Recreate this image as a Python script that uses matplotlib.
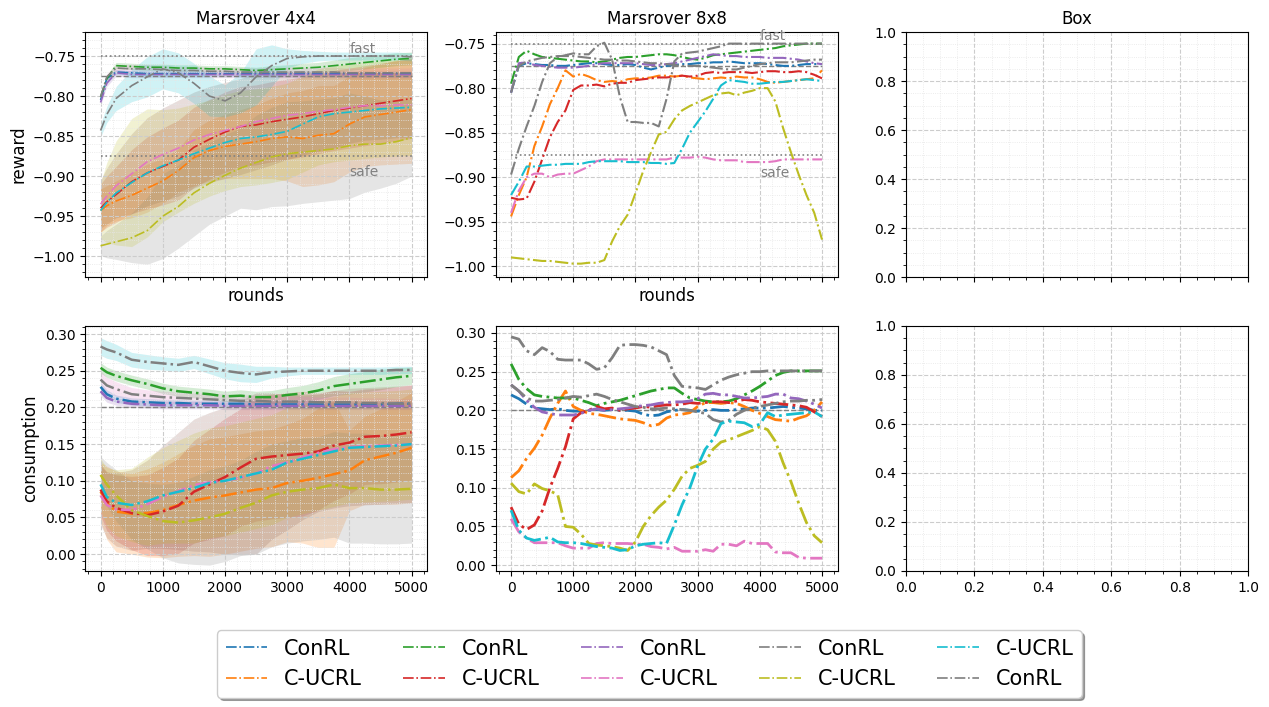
import numpy as np
import matplotlib.pyplot as plt
from matplotlib.ticker import AutoMinorLocator

rounds4 = [0, 100, 250, 500, 750, 1000, 1250, 1500, 1750, 2000, 2250,
           2500, 2750, 3000, 3250, 3500, 3750, 4000, 4250, 4500, 4750, 5000]
rounds8 = np.arange(0, 5001, 125)

labels = ['ConRL', 'C-UCRL', 'ConRL', 'C-UCRL', 'ConRL',
          'C-UCRL', 'ConRL', 'C-UCRL', 'C-UCRL', 'ConRL']
colors = ['tab:blue', 'tab:orange', 'tab:green', 'tab:red', 'tab:purple',
          'tab:pink', 'tab:gray', 'tab:olive', 'tab:cyan', 'tab:gray']
band_colors = ['tab:blue', 'tab:orange', 'tab:green', 'tab:red', 'tab:purple',
               'tab:brown', 'tab:pink', 'tab:gray', 'tab:olive', 'tab:cyan']

# ---- Marsrover 4x4, reward (mean and spread) ----
rew4_blue = [-0.805, -0.778, -0.770, -0.771, -0.772, -0.772, -0.772, -0.772, -0.772, -0.772, -0.772,
             -0.772, -0.772, -0.772, -0.772, -0.772, -0.772, -0.772, -0.772, -0.772, -0.772, -0.772]
rew4_orange = [-0.943, -0.937, -0.931, -0.924, -0.915, -0.906, -0.893, -0.877, -0.868, -0.863, -0.860,
               -0.857, -0.853, -0.851, -0.853, -0.849, -0.847, -0.835, -0.826, -0.823, -0.820, -0.817]
rew4_green = [-0.801, -0.778, -0.762, -0.763, -0.764, -0.764, -0.765, -0.765, -0.766, -0.766, -0.767,
              -0.768, -0.767, -0.766, -0.765, -0.764, -0.762, -0.760, -0.758, -0.756, -0.754, -0.753]
rew4_red = [-0.940, -0.932, -0.923, -0.907, -0.896, -0.888, -0.880, -0.864, -0.854, -0.845, -0.838,
            -0.836, -0.832, -0.829, -0.826, -0.822, -0.818, -0.815, -0.812, -0.809, -0.806, -0.803]
rew4_purple = [-0.808, -0.784, -0.771, -0.773, -0.773, -0.773, -0.773, -0.773, -0.773, -0.773, -0.773,
               -0.773, -0.773, -0.773, -0.773, -0.773, -0.773, -0.773, -0.773, -0.773, -0.773, -0.773]
rew4_pink = [-0.935, -0.925, -0.912, -0.897, -0.882, -0.873, -0.865, -0.855, -0.848, -0.843, -0.838,
             -0.832, -0.828, -0.824, -0.822, -0.819, -0.817, -0.814, -0.812, -0.812, -0.811, -0.811]
rew4_gray = [-0.801, -0.776, -0.765, -0.766, -0.766, -0.767, -0.768, -0.768, -0.769, -0.769, -0.770,
             -0.770, -0.770, -0.770, -0.770, -0.770, -0.770, -0.771, -0.771, -0.771, -0.771, -0.771]
rew4_olive = [-0.987, -0.985, -0.982, -0.977, -0.968, -0.950, -0.938, -0.921, -0.909, -0.899, -0.890,
              -0.883, -0.876, -0.872, -0.870, -0.868, -0.866, -0.862, -0.860, -0.860, -0.857, -0.852]
rew4_cyan = [-0.943, -0.933, -0.921, -0.908, -0.896, -0.887, -0.880, -0.872, -0.865, -0.858, -0.853,
             -0.851, -0.848, -0.844, -0.835, -0.826, -0.822, -0.820, -0.818, -0.816, -0.815, -0.814]
rew4_gray2 = [-0.843, -0.823, -0.803, -0.787, -0.776, -0.766, -0.771, -0.784, -0.800, -0.806, -0.796,
              -0.776, -0.762, -0.753, -0.751, -0.750, -0.750, -0.750, -0.750, -0.750, -0.750, -0.751]

rew4_blue_sd = [0.004, 0.004, 0.003, 0.003, 0.003, 0.003, 0.003, 0.003, 0.003, 0.003, 0.003,
                0.003, 0.003, 0.003, 0.003, 0.003, 0.003, 0.003, 0.003, 0.003, 0.003, 0.003]
rew4_orange_sd = [0.027, 0.025, 0.025, 0.028, 0.030, 0.028, 0.027, 0.035, 0.038, 0.040, 0.043,
                  0.046, 0.050, 0.055, 0.060, 0.062, 0.060, 0.060, 0.062, 0.063, 0.065, 0.067]
rew4_green_sd = [0.004, 0.004, 0.004, 0.004, 0.004, 0.004, 0.004, 0.004, 0.004, 0.004, 0.004,
                 0.004, 0.005, 0.005, 0.006, 0.006, 0.007, 0.008, 0.008, 0.008, 0.008, 0.008]
rew4_red_sd = [0.030, 0.032, 0.035, 0.040, 0.045, 0.048, 0.050, 0.050, 0.050, 0.050, 0.050,
               0.050, 0.050, 0.050, 0.050, 0.050, 0.050, 0.050, 0.050, 0.050, 0.050, 0.050]
rew4_purple_sd = [0.004, 0.004, 0.004, 0.004, 0.004, 0.004, 0.004, 0.004, 0.004, 0.004, 0.004,
                  0.004, 0.004, 0.004, 0.004, 0.004, 0.004, 0.004, 0.004, 0.004, 0.004, 0.004]
rew4_pink_sd = [0.030, 0.035, 0.040, 0.050, 0.055, 0.058, 0.060, 0.060, 0.060, 0.060, 0.060,
                0.060, 0.058, 0.055, 0.052, 0.050, 0.048, 0.045, 0.043, 0.042, 0.041, 0.041]
rew4_gray_sd = [0.004, 0.004, 0.004, 0.005, 0.005, 0.005, 0.005, 0.005, 0.005, 0.005, 0.005,
                0.005, 0.006, 0.006, 0.006, 0.006, 0.006, 0.006, 0.006, 0.006, 0.006, 0.006]
rew4_olive_sd = [0.012, 0.017, 0.022, 0.031, 0.042, 0.053, 0.052, 0.054, 0.051, 0.051, 0.050,
                 0.059, 0.062, 0.065, 0.064, 0.064, 0.064, 0.066, 0.060, 0.055, 0.052, 0.048]
rew4_cyan_sd = [0.035, 0.050, 0.065, 0.080, 0.080, 0.070, 0.065, 0.062, 0.060, 0.060, 0.060,
                0.060, 0.060, 0.060, 0.060, 0.060, 0.060, 0.060, 0.060, 0.060, 0.060, 0.060]
rew4_gray2_sd = [0.008, 0.010, 0.015, 0.020, 0.025, 0.025, 0.025, 0.025, 0.025, 0.020, 0.025,
                 0.035, 0.026, 0.012, 0.008, 0.006, 0.005, 0.005, 0.005, 0.005, 0.005, 0.005]

# ---- Marsrover 4x4, consumption ----
con4_blue = [0.228, 0.218, 0.212, 0.208, 0.207, 0.206, 0.206, 0.205, 0.205, 0.205, 0.205,
             0.204, 0.204, 0.204, 0.204, 0.204, 0.204, 0.204, 0.204, 0.204, 0.205, 0.205]
con4_orange = [0.085, 0.070, 0.058, 0.055, 0.056, 0.060, 0.067, 0.073, 0.077, 0.080, 0.084,
               0.088, 0.090, 0.097, 0.100, 0.104, 0.109, 0.114, 0.128, 0.133, 0.138, 0.145]
con4_green = [0.254, 0.248, 0.243, 0.237, 0.232, 0.226, 0.222, 0.220, 0.218, 0.215, 0.216,
              0.214, 0.214, 0.217, 0.219, 0.223, 0.229, 0.232, 0.235, 0.238, 0.241, 0.243]
con4_red = [0.088, 0.072, 0.063, 0.056, 0.053, 0.058, 0.066, 0.085, 0.095, 0.105, 0.118,
            0.130, 0.133, 0.135, 0.137, 0.140, 0.148, 0.152, 0.160, 0.161, 0.163, 0.166]
con4_purple = [0.222, 0.213, 0.208, 0.205, 0.204, 0.203, 0.203, 0.203, 0.203, 0.202, 0.202,
               0.202, 0.202, 0.202, 0.202, 0.202, 0.202, 0.202, 0.202, 0.202, 0.202, 0.202]
con4_pink = [0.080, 0.067, 0.061, 0.060, 0.068, 0.078, 0.086, 0.094, 0.098, 0.100, 0.104,
             0.110, 0.120, 0.125, 0.132, 0.138, 0.143, 0.146, 0.147, 0.148, 0.149, 0.150]
con4_gray = [0.238, 0.230, 0.225, 0.218, 0.216, 0.214, 0.213, 0.212, 0.211, 0.210, 0.209,
             0.209, 0.208, 0.208, 0.208, 0.207, 0.207, 0.207, 0.206, 0.206, 0.205, 0.205]
con4_olive = [0.108, 0.095, 0.080, 0.060, 0.052, 0.045, 0.043, 0.046, 0.050, 0.055, 0.063,
              0.070, 0.080, 0.085, 0.088, 0.090, 0.095, 0.090, 0.090, 0.088, 0.088, 0.089]
con4_cyan = [0.095, 0.078, 0.070, 0.067, 0.072, 0.080, 0.085, 0.090, 0.097, 0.100, 0.105,
             0.110, 0.115, 0.125, 0.130, 0.135, 0.140, 0.145, 0.146, 0.147, 0.148, 0.150]
con4_gray2 = [0.283, 0.279, 0.275, 0.265, 0.262, 0.260, 0.258, 0.262, 0.256, 0.250, 0.247,
              0.245, 0.248, 0.249, 0.250, 0.250, 0.250, 0.250, 0.250, 0.250, 0.251, 0.251]

con4_blue_sd = [0.006, 0.006, 0.005, 0.005, 0.005, 0.005, 0.005, 0.005, 0.005, 0.005, 0.005,
                0.005, 0.005, 0.005, 0.005, 0.005, 0.005, 0.005, 0.005, 0.005, 0.005, 0.005]
con4_orange_sd = [0.040, 0.050, 0.055, 0.055, 0.060, 0.065, 0.070, 0.075, 0.080, 0.080, 0.080,
                  0.080, 0.080, 0.080, 0.085, 0.095, 0.100, 0.055, 0.060, 0.065, 0.070, 0.075]
con4_green_sd = [0.007, 0.007, 0.007, 0.007, 0.007, 0.007, 0.007, 0.007, 0.007, 0.007, 0.008,
                 0.008, 0.009, 0.010, 0.011, 0.012, 0.013, 0.014, 0.014, 0.014, 0.013, 0.012]
con4_red_sd = [0.035, 0.040, 0.045, 0.050, 0.055, 0.060, 0.065, 0.070, 0.075, 0.080, 0.080,
               0.085, 0.085, 0.085, 0.085, 0.080, 0.075, 0.070, 0.065, 0.065, 0.065, 0.065]
con4_purple_sd = [0.006, 0.006, 0.005, 0.005, 0.005, 0.005, 0.005, 0.005, 0.005, 0.005, 0.005,
                  0.005, 0.005, 0.005, 0.005, 0.005, 0.005, 0.005, 0.005, 0.005, 0.005, 0.005]
con4_pink_sd = [0.040, 0.045, 0.050, 0.055, 0.060, 0.070, 0.080, 0.090, 0.095, 0.100, 0.105,
                0.110, 0.100, 0.092, 0.085, 0.080, 0.080, 0.080, 0.080, 0.080, 0.080, 0.080]
con4_gray_sd = [0.012, 0.011, 0.010, 0.009, 0.008, 0.008, 0.008, 0.008, 0.008, 0.008, 0.008,
                0.008, 0.008, 0.007, 0.007, 0.007, 0.007, 0.007, 0.007, 0.007, 0.007, 0.007]
con4_olive_sd = [0.025, 0.030, 0.035, 0.040, 0.045, 0.050, 0.055, 0.060, 0.065, 0.065, 0.065,
                 0.070, 0.070, 0.070, 0.070, 0.070, 0.072, 0.075, 0.075, 0.074, 0.074, 0.074]
con4_cyan_sd = [0.035, 0.040, 0.045, 0.050, 0.060, 0.065, 0.070, 0.075, 0.075, 0.075, 0.075,
                0.075, 0.075, 0.075, 0.075, 0.075, 0.075, 0.075, 0.075, 0.075, 0.075, 0.075]
con4_gray2_sd = [0.012, 0.012, 0.011, 0.010, 0.010, 0.009, 0.009, 0.009, 0.010, 0.011, 0.012,
                 0.011, 0.008, 0.006, 0.005, 0.005, 0.005, 0.005, 0.005, 0.005, 0.005, 0.005]

# ---- Marsrover 8x8, reward (single runs, every 125 rounds) ----
rew8_blue = [-0.805, -0.775, -0.772, -0.773, -0.774, -0.774, -0.775, -0.775,
             -0.774, -0.773, -0.772, -0.772, -0.773, -0.774, -0.774, -0.773,
             -0.774, -0.777, -0.779, -0.777, -0.775, -0.774, -0.773, -0.773,
             -0.772, -0.772, -0.771, -0.771, -0.770, -0.771, -0.772, -0.772,
             -0.772, -0.773, -0.774, -0.775, -0.775, -0.774, -0.773, -0.773,
             -0.773]
rew8_orange = [-0.944, -0.920, -0.900, -0.865, -0.843, -0.818, -0.800, -0.780,
               -0.787, -0.784, -0.787, -0.791, -0.793, -0.792, -0.793, -0.790,
               -0.789, -0.789, -0.788, -0.786, -0.786, -0.787, -0.786, -0.788,
               -0.789, -0.790, -0.789, -0.788, -0.789, -0.787, -0.788, -0.788,
               -0.790, -0.793, -0.794, -0.793, -0.792, -0.791, -0.790, -0.789,
               -0.780]
rew8_green = [-0.795, -0.765, -0.758, -0.762, -0.765, -0.766, -0.767, -0.768,
              -0.769, -0.770, -0.770, -0.771, -0.770, -0.768, -0.766, -0.765,
              -0.765, -0.764, -0.763, -0.762, -0.762, -0.763, -0.765, -0.767,
              -0.768, -0.766, -0.763, -0.762, -0.761, -0.760, -0.759, -0.758,
              -0.757, -0.756, -0.755, -0.753, -0.752, -0.751, -0.750, -0.750,
              -0.750]
rew8_red = [-0.923, -0.925, -0.924, -0.905, -0.880, -0.855, -0.838, -0.825,
            -0.802, -0.797, -0.797, -0.796, -0.798, -0.795, -0.794, -0.794,
            -0.791, -0.790, -0.789, -0.788, -0.788, -0.787, -0.786, -0.787,
            -0.786, -0.783, -0.782, -0.783, -0.782, -0.782, -0.782, -0.783,
            -0.782, -0.781, -0.781, -0.782, -0.782, -0.781, -0.782, -0.785,
            -0.789]
rew8_purple = [-0.805, -0.772, -0.771, -0.774, -0.775, -0.776, -0.777, -0.777,
               -0.777, -0.776, -0.775, -0.773, -0.772, -0.772, -0.772, -0.772,
               -0.772, -0.773, -0.774, -0.774, -0.773, -0.772, -0.770, -0.768,
               -0.766, -0.764, -0.762, -0.763, -0.764, -0.764, -0.765, -0.765,
               -0.765, -0.766, -0.766, -0.766, -0.767, -0.768, -0.770, -0.772,
               -0.773]
rew8_pink = [-0.940, -0.915, -0.900, -0.896, -0.896, -0.900, -0.897, -0.896,
             -0.896, -0.892, -0.888, -0.882, -0.880, -0.880, -0.880, -0.880,
             -0.880, -0.880, -0.880, -0.880, -0.880, -0.878, -0.878, -0.878,
             -0.877, -0.878, -0.880, -0.881, -0.881, -0.881, -0.883, -0.883,
             -0.883, -0.883, -0.882, -0.880, -0.880, -0.880, -0.880, -0.880,
             -0.880]
rew8_gray = [-0.805, -0.775, -0.770, -0.768, -0.766, -0.765, -0.764, -0.764,
             -0.764, -0.765, -0.766, -0.767, -0.768, -0.768, -0.769, -0.769,
             -0.770, -0.771, -0.772, -0.772, -0.773, -0.774, -0.775, -0.775,
             -0.775, -0.776, -0.777, -0.778, -0.779, -0.779, -0.777, -0.775,
             -0.773, -0.772, -0.771, -0.771, -0.771, -0.770, -0.769, -0.768,
             -0.768]
rew8_olive = [-0.990, -0.991, -0.992, -0.993, -0.994, -0.994, -0.995, -0.996,
              -0.997, -0.997, -0.996, -0.996, -0.993, -0.972, -0.955, -0.942,
              -0.918, -0.893, -0.872, -0.852, -0.849, -0.835, -0.825, -0.820,
              -0.816, -0.812, -0.808, -0.806, -0.805, -0.808, -0.805, -0.803,
              -0.800, -0.800, -0.815, -0.845, -0.872, -0.897, -0.920, -0.940,
              -0.970]
rew8_cyan = [-0.920, -0.905, -0.888, -0.888, -0.887, -0.886, -0.886, -0.885,
             -0.885, -0.885, -0.883, -0.882, -0.882, -0.882, -0.882, -0.883,
             -0.883, -0.883, -0.884, -0.884, -0.885, -0.884, -0.868, -0.850,
             -0.838, -0.826, -0.812, -0.797, -0.791, -0.792, -0.793, -0.795,
             -0.795, -0.794, -0.793, -0.793, -0.792, -0.791, -0.790, -0.791,
             -0.792]
rew8_gray2 = [-0.897, -0.868, -0.843, -0.820, -0.793, -0.772, -0.765, -0.763,
              -0.761, -0.762, -0.762, -0.753, -0.749, -0.768, -0.810, -0.838,
              -0.838, -0.839, -0.839, -0.843, -0.812, -0.770, -0.761, -0.760,
              -0.759, -0.757, -0.755, -0.753, -0.750, -0.750, -0.750, -0.750,
              -0.750, -0.750, -0.750, -0.750, -0.750, -0.750, -0.750, -0.750,
              -0.750]

# ---- Marsrover 8x8, consumption ----
con8_blue = [0.220, 0.215, 0.208, 0.203, 0.202, 0.201, 0.202, 0.200,
             0.199, 0.199, 0.200, 0.201, 0.200, 0.201, 0.200, 0.200,
             0.199, 0.195, 0.193, 0.194, 0.198, 0.200, 0.201, 0.200,
             0.199, 0.200, 0.201, 0.200, 0.200, 0.201, 0.202, 0.203,
             0.203, 0.203, 0.204, 0.205, 0.204, 0.203, 0.202, 0.200,
             0.200]
con8_orange = [0.113, 0.122, 0.138, 0.151, 0.168, 0.190, 0.209, 0.225,
               0.205, 0.200, 0.196, 0.195, 0.193, 0.191, 0.189, 0.188,
               0.187, 0.184, 0.180, 0.182, 0.190, 0.194, 0.195, 0.197,
               0.205, 0.210, 0.210, 0.209, 0.210, 0.209, 0.205, 0.200,
               0.196, 0.192, 0.188, 0.187, 0.186, 0.190, 0.193, 0.200,
               0.211]
con8_green = [0.260, 0.240, 0.228, 0.220, 0.218, 0.217, 0.216, 0.216,
              0.216, 0.213, 0.210, 0.206, 0.209, 0.211, 0.213, 0.216,
              0.219, 0.222, 0.225, 0.227, 0.229, 0.229, 0.222, 0.216,
              0.214, 0.212, 0.211, 0.211, 0.212, 0.215, 0.220, 0.225,
              0.231, 0.238, 0.245, 0.249, 0.251, 0.251, 0.251, 0.251,
              0.251]
con8_red = [0.075, 0.053, 0.046, 0.052, 0.070, 0.100, 0.125, 0.153,
            0.189, 0.197, 0.200, 0.205, 0.202, 0.203, 0.200, 0.202,
            0.203, 0.205, 0.204, 0.206, 0.207, 0.207, 0.208, 0.210,
            0.209, 0.210, 0.211, 0.211, 0.210, 0.212, 0.214, 0.213,
            0.211, 0.210, 0.209, 0.208, 0.207, 0.206, 0.204, 0.198,
            0.192]
con8_purple = [0.233, 0.225, 0.213, 0.204, 0.198, 0.196, 0.194, 0.194,
               0.194, 0.196, 0.200, 0.202, 0.200, 0.201, 0.202, 0.203,
               0.205, 0.206, 0.207, 0.209, 0.210, 0.211, 0.211, 0.212,
               0.215, 0.221, 0.222, 0.220, 0.220, 0.218, 0.216, 0.216,
               0.217, 0.218, 0.221, 0.221, 0.216, 0.215, 0.212, 0.208,
               0.203]
con8_pink = [0.060, 0.043, 0.035, 0.029, 0.029, 0.029, 0.029, 0.025,
             0.022, 0.022, 0.022, 0.028, 0.029, 0.028, 0.028, 0.028,
             0.027, 0.027, 0.024, 0.023, 0.021, 0.023, 0.018, 0.018,
             0.018, 0.020, 0.018, 0.027, 0.027, 0.025, 0.031, 0.028,
             0.028, 0.028, 0.017, 0.016, 0.016, 0.010, 0.009, 0.009,
             0.009]
con8_gray = [0.233, 0.225, 0.216, 0.212, 0.212, 0.213, 0.214, 0.216,
             0.218, 0.217, 0.219, 0.221, 0.218, 0.214, 0.211, 0.208,
             0.205, 0.204, 0.202, 0.202, 0.203, 0.202, 0.201, 0.200,
             0.198, 0.196, 0.188, 0.185, 0.187, 0.195, 0.200, 0.203,
             0.205, 0.207, 0.209, 0.211, 0.212, 0.212, 0.213, 0.213,
             0.214]
con8_olive = [0.106, 0.095, 0.092, 0.105, 0.099, 0.096, 0.091, 0.050,
              0.049, 0.040, 0.028, 0.026, 0.025, 0.024, 0.022, 0.019,
              0.030, 0.050, 0.064, 0.075, 0.084, 0.098, 0.115, 0.125,
              0.129, 0.134, 0.150, 0.159, 0.162, 0.166, 0.170, 0.174,
              0.179, 0.175, 0.160, 0.132, 0.108, 0.080, 0.055, 0.038,
              0.029]
con8_cyan = [0.071, 0.045, 0.035, 0.032, 0.034, 0.036, 0.030, 0.029,
             0.029, 0.028, 0.026, 0.024, 0.023, 0.022, 0.019, 0.020,
             0.025, 0.027, 0.028, 0.029, 0.028, 0.052, 0.078, 0.100,
             0.128, 0.150, 0.163, 0.183, 0.186, 0.185, 0.184, 0.179,
             0.182, 0.197, 0.192, 0.194, 0.195, 0.196, 0.197, 0.198,
             0.192]
con8_gray2 = [0.295, 0.292, 0.277, 0.272, 0.281, 0.276, 0.266, 0.265,
              0.265, 0.265, 0.260, 0.253, 0.255, 0.268, 0.284, 0.285,
              0.285, 0.284, 0.282, 0.277, 0.272, 0.245, 0.231, 0.230,
              0.229, 0.227, 0.233, 0.239, 0.243, 0.246, 0.248, 0.250,
              0.250, 0.251, 0.251, 0.251, 0.251, 0.251, 0.251, 0.251,
              0.251]

rew4 = [rew4_blue, rew4_orange, rew4_green, rew4_red, rew4_purple,
        rew4_pink, rew4_gray, rew4_olive, rew4_cyan, rew4_gray2]
rew4_sd = [rew4_blue_sd, rew4_orange_sd, rew4_green_sd, rew4_red_sd, rew4_purple_sd,
           rew4_pink_sd, rew4_gray_sd, rew4_olive_sd, rew4_cyan_sd, rew4_gray2_sd]
con4 = [con4_blue, con4_orange, con4_green, con4_red, con4_purple,
        con4_pink, con4_gray, con4_olive, con4_cyan, con4_gray2]
con4_sd = [con4_blue_sd, con4_orange_sd, con4_green_sd, con4_red_sd, con4_purple_sd,
           con4_pink_sd, con4_gray_sd, con4_olive_sd, con4_cyan_sd, con4_gray2_sd]
rew8 = [rew8_blue, rew8_orange, rew8_green, rew8_red, rew8_purple,
        rew8_pink, rew8_gray, rew8_olive, rew8_cyan, rew8_gray2]
con8 = [con8_blue, con8_orange, con8_green, con8_red, con8_purple,
        con8_pink, con8_gray, con8_olive, con8_cyan, con8_gray2]


def style_axis(ax):
    ax.minorticks_on()
    ax.grid(True, which='major', ls='--', color='#cccccc', lw=0.8)
    ax.grid(True, which='minor', ls=':', color='#e6e6e6', lw=0.6)


def add_reward_refs(ax):
    ax.hlines([-0.75, -0.875], 0, 5000, colors='gray', linestyles=':', lw=1.2)
    ax.hlines(-0.775, 0, 5000, colors='gray', linestyles='--', lw=1.0)
    ax.text(4000, -0.746, 'fast', color='gray', fontsize=10)
    ax.text(4000, -0.9, 'safe', color='gray', fontsize=10)


fig, axes = plt.subplots(2, 3, figsize=(12.69, 7.07), sharex='col')
fig.subplots_adjust(left=0.067, right=0.9835, top=0.9547, bottom=0.1924,
                    wspace=0.2, hspace=0.2)

# Marsrover 4x4
ax = axes[0, 0]
for mean, sd, bc in zip(rew4, rew4_sd, band_colors):
    m, s = np.array(mean), np.array(sd)
    ax.fill_between(rounds4, m - s, m + s, color=bc, alpha=0.2, lw=0)
add_reward_refs(ax)
handles = []
for mean, c, lab in zip(rew4, colors, labels):
    h, = ax.plot(rounds4, mean, ls='-.', color=c, lw=1.2, label=lab)
    handles.append(h)
ax.set_ylim(-1.026, -0.72)
ax.set_title('Marsrover 4x4', fontsize=12)
ax.set_ylabel('reward', fontsize=12)
ax.set_xlabel('rounds', fontsize=12)

ax = axes[1, 0]
for mean, sd, bc in zip(con4, con4_sd, band_colors):
    m, s = np.array(mean), np.array(sd)
    ax.fill_between(rounds4, m - s, m + s, color=bc, alpha=0.2, lw=0)
ax.hlines(0.2, 0, 5000, colors='gray', linestyles='--', lw=1.0)
for mean, c in zip(con4, colors):
    ax.plot(rounds4, mean, ls='-.', color=c, lw=1.8)
ax.set_ylim(-0.023, 0.311)
ax.set_ylabel('consumption', fontsize=12)

# Marsrover 8x8
ax = axes[0, 1]
add_reward_refs(ax)
for vals, c in zip(rew8, colors):
    ax.plot(rounds8, vals, ls='-.', color=c, lw=1.5)
ax.set_ylim(-1.012, -0.737)
ax.set_title('Marsrover 8x8', fontsize=12)
ax.set_xlabel('rounds', fontsize=12)

ax = axes[1, 1]
ax.hlines(0.2, 0, 5000, colors='gray', linestyles='--', lw=1.0)
for vals, c in zip(con8, colors):
    ax.plot(rounds8, vals, ls='-.', color=c, lw=2.0)
ax.set_ylim(-0.0075, 0.309)

for ax in axes[:, :2].flat:
    ax.set_xticks([0, 1000, 2000, 3000, 4000, 5000])
    ax.xaxis.set_minor_locator(AutoMinorLocator(5))

# Box (empty)
axes[0, 2].set_title('Box', fontsize=12)
for ax in axes[:, 2]:
    ax.set_xlim(0, 1)
    ax.set_ylim(0, 1)

for ax in axes.flat:
    style_axis(ax)
axes[0, 0].tick_params(labelbottom=False)
axes[0, 1].tick_params(labelbottom=False)
axes[0, 2].tick_params(labelbottom=False)

fig.legend(handles=handles, loc='upper center', bbox_to_anchor=(0.5118, 0.123),
           ncol=5, fontsize=15, shadow=True, fancybox=True)

fig.savefig('out.png', dpi=100)
